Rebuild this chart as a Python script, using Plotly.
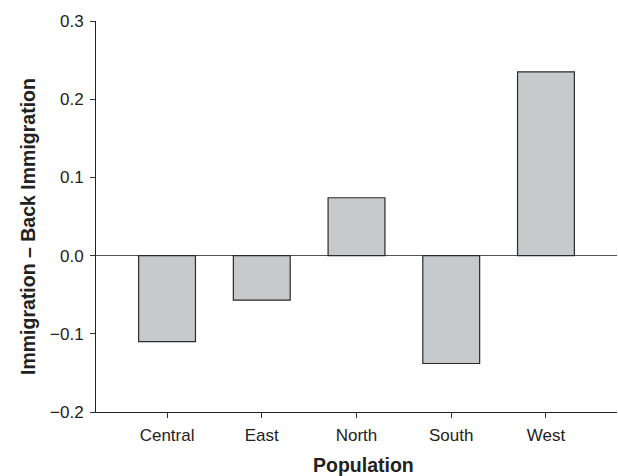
import plotly.graph_objects as go

categories = ["Central", "East", "North", "South", "West"]
values = [-0.110, -0.057, 0.074, -0.138, 0.235]
y_ticks = [-0.2, -0.1, 0.0, 0.1, 0.2, 0.3]
y_tick_labels = ["\u22120.2", "\u22120.1", "0.0", "0.1", "0.2", "0.3"]

fig = go.Figure()
fig.add_trace(go.Bar(
    x=list(range(len(categories))),
    y=values,
    width=0.6,
    marker=dict(color="#c8c9cb", line=dict(color="#2a2a2a", width=1.2)),
))

font_family = "Liberation Sans, Arial, sans-serif"
fig.update_layout(
    width=618, height=476,
    margin=dict(l=96, r=1, t=21, b=64),
    paper_bgcolor="white", plot_bgcolor="white",
    showlegend=False,
    font=dict(family=font_family, size=17, color="#222"),
    xaxis=dict(
        range=[-0.75, 4.75],
        tickmode="array", tickvals=list(range(len(categories))), ticktext=categories,
        ticks="outside", ticklen=5, tickcolor="#333", tickwidth=1,
        ticklabelstandoff=3,
        showline=True, linecolor="#222", linewidth=1,
        showgrid=False, zeroline=False,
        tickfont=dict(size=17, color="#222"),
    ),
    yaxis=dict(
        range=[-0.2, 0.3],
        tickmode="array", tickvals=y_ticks, ticktext=y_tick_labels,
        ticks="outside", ticklen=5, tickcolor="#333", tickwidth=1,
        ticklabelstandoff=3,
        showline=True, linecolor="#222", linewidth=1,
        showgrid=False,
        zeroline=True, zerolinecolor="#555", zerolinewidth=1,
        tickfont=dict(size=17, color="#222"),
    ),
    annotations=[
        dict(text="<b>Population</b>", xref="paper", yref="paper",
             x=(363 - 96) / 521, y=-(465 - 412) / 391, xanchor="center", yanchor="middle",
             showarrow=False, font=dict(size=19.5, color="#222")),
        dict(text="<b>Immigration \u2013 Back Immigration</b>", xref="paper", yref="paper",
             x=-(96 - 28) / 521, y=(412 - 227) / 391, xanchor="center", yanchor="middle",
             textangle=-90, showarrow=False, font=dict(size=19.5, color="#222")),
    ],
)

fig.write_html("out.html", config={"displayModeBar": False},
               post_script="document.body.style.margin='0';document.body.style.padding='0';")
